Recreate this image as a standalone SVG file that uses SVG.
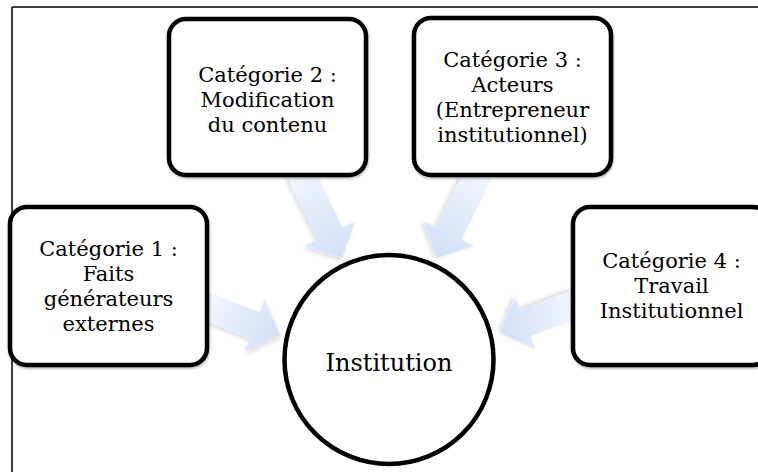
<svg xmlns="http://www.w3.org/2000/svg" width="758" height="472" viewBox="0 0 758 472">
<defs>
<linearGradient id="ag" x1="0" y1="0" x2="1" y2="0">
<stop offset="0" stop-color="#f2f6fd"/>
<stop offset="1" stop-color="#d2e0f7"/>
</linearGradient>
<filter id="ash" x="-30%" y="-30%" width="160%" height="160%">
<feDropShadow dx="1.5" dy="2.5" stdDeviation="2" flood-color="#000" flood-opacity="0.15"/>
</filter>
<filter id="bsh" x="-10%" y="-10%" width="120%" height="120%">
<feDropShadow dx="0.5" dy="1.5" stdDeviation="1" flood-color="#000" flood-opacity="0.3"/>
</filter>
</defs>
<style>
.frame{stroke:#000;stroke-width:1.5;fill:none}
.box{fill:#fff;stroke:#000;stroke-width:4.5}
.arrow{fill:url(#ag);filter:url(#ash)}
.t{font-family:"DejaVu Serif","Liberation Serif",serif;font-size:21px;fill:#000;text-anchor:middle}
.tc{font-size:24px}
</style>
<rect width="758" height="472" fill="#fff"/>
<g id="frame">
<line class="frame" x1="12" y1="7" x2="758" y2="7"/>
<line class="frame" x1="12" y1="7" x2="12" y2="472"/>
</g>
<g id="connectors">
<polygon class="arrow" transform="translate(280,335) rotate(21)" points="-82,-14 -27,-14 -27,-28 0,0 -27,28 -27,14 -82,14"/>
<polygon class="arrow" transform="translate(342,258) rotate(64)" points="-98,-14 -27,-14 -27,-28 0,0 -27,28 -27,14 -98,14"/>
<polygon class="arrow" transform="translate(437,258) rotate(116)" points="-98,-14 -27,-14 -27,-28 0,0 -27,28 -27,14 -98,14"/>
<polygon class="arrow" transform="translate(500,333) rotate(159)" points="-82,-14 -27,-14 -27,-28 0,0 -27,28 -27,14 -82,14"/>
</g>
<g id="cat1">
<rect class="box" x="10" y="207" width="197" height="158" rx="17" filter="url(#bsh)"/>
<text class="t" x="108.5" y="256">Catégorie 1 :</text>
<text class="t" x="108.5" y="281">Faits</text>
<text class="t" x="108.5" y="306">générateurs</text>
<text class="t" x="108.5" y="331">externes</text>
</g>
<g id="cat2">
<rect class="box" x="169" y="19" width="197" height="156" rx="17" filter="url(#bsh)"/>
<text class="t" x="267.5" y="82">Catégorie 2 :</text>
<text class="t" x="267.5" y="107">Modification</text>
<text class="t" x="267.5" y="132">du contenu</text>
</g>
<g id="cat3">
<rect class="box" x="414" y="18" width="197" height="157" rx="17" filter="url(#bsh)"/>
<text class="t" x="512.5" y="67">Catégorie 3 :</text>
<text class="t" x="512.5" y="92">Acteurs</text>
<text class="t" x="512.5" y="117">(Entrepreneur</text>
<text class="t" x="512.5" y="142">institutionnel)</text>
</g>
<g id="cat4">
<rect class="box" x="573" y="207" width="197" height="158" rx="17" filter="url(#bsh)"/>
<text class="t" x="671.5" y="268">Catégorie 4 :</text>
<text class="t" x="671.5" y="293">Travail</text>
<text class="t" x="671.5" y="318">Institutionnel</text>
</g>
<g id="institution">
<circle class="box" cx="389" cy="359.5" r="104.5"/>
<text class="t tc" x="389" y="371">Institution</text>
</g>
</svg>
